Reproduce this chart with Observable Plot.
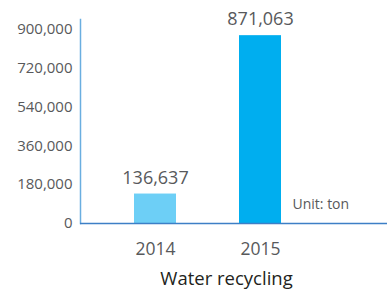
<!DOCTYPE html>
<html>
<head>
<meta charset="utf-8">
<script src="https://cdn.jsdelivr.net/npm/d3@7"></script>
<script src="https://cdn.jsdelivr.net/npm/@observablehq/plot@0.6"></script>
<style>
  html, body { margin: 0; padding: 0; background: #fff; }
</style>
</head>
<body>
<div id="chart"></div>
<script>
const years = ["2014", "2015"];
const values = [136637, 871063];
const barColors = ["#6dcff6", "#00aeef"];
const yTicks = [0, 180000, 360000, 540000, 720000, 900000];
const title = "Water recycling";
const unitLabel = "Unit: ton";

const data = years.map((year, i) => ({year, value: values[i], color: barColors[i]}));
const fmt = d3.format(",");

const chart = Plot.plot({
  width: 388,
  height: 292,
  marginTop: 19,
  marginBottom: 69,
  marginLeft: 80,
  marginRight: 1,
  style: {fontFamily: "'Open Sans', sans-serif", background: "#fff"},
  x: {domain: years, range: [80, 335], paddingInner: 0.6, paddingOuter: 0.514},
  y: {domain: [0, 946000]},
  marks: [
    Plot.barY(data, {x: "year", y: "value", fill: "color"}),
    Plot.text(data, {x: "year", y: "value", text: d => fmt(d.value), dy: -16, fontSize: 18, fill: "#58595b"}),
    Plot.frame({anchor: "left", stroke: "#6aaee0", strokeWidth: 1.5}),
    Plot.ruleY([0], {stroke: "#3d7fc6", strokeWidth: 1.5}),
    Plot.axisY({ticks: yTicks, tickSize: 0, tickPadding: 8, tickFormat: fmt, fontSize: 15, color: "#58595b", label: null}),
    Plot.axisX({tickSize: 0, tickPadding: 19, fontSize: 17.5, color: "#58595b", label: null}),
    Plot.text([unitLabel], {frameAnchor: "bottom-right", textAnchor: "start", dx: -95, dy: -15, fontSize: 14, fill: "#58595b"}),
    Plot.text([title], {frameAnchor: "bottom", lineAnchor: "top", dx: -7.5, dy: 48.5, fontSize: 18.5, fill: "#231f20"})
  ]
});
document.getElementById("chart").appendChild(chart);
</script>
</body>
</html>
